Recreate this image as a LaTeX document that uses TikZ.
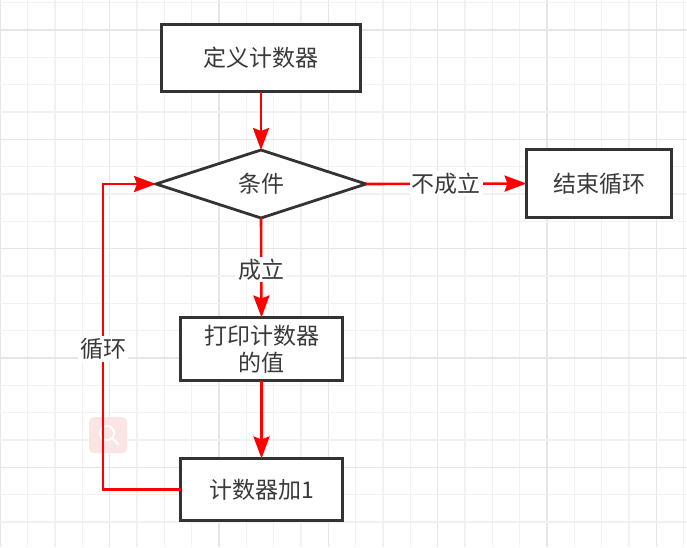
\documentclass[tikz,border=0pt]{standalone}
\usepackage{fontspec}
\setmainfont{Noto Sans CJK SC}
\usetikzlibrary{arrows.meta,shapes.geometric}
\definecolor{gridminor}{HTML}{F1F1F1}
\definecolor{gridmajor}{HTML}{E6E6E6}
\definecolor{boxline}{HTML}{333333}
\definecolor{txt}{HTML}{3A3A3A}
\definecolor{flow}{HTML}{FF0000}
\definecolor{magpink}{HTML}{FBE4E4}
\tikzset{
  procbox/.style={draw=boxline, line width=2.8pt, fill=white, inner sep=0pt, outer sep=0pt,
    text=txt, font=\fontsize{23}{27}\selectfont, align=center},
  decbox/.style={diamond, draw=boxline, line width=2.8pt, fill=white, inner sep=0pt, outer sep=0pt,
    text=txt, font=\fontsize{23}{27}\selectfont, minimum width=210pt, minimum height=68pt},
  flowline/.style={draw=flow, line width=2.6pt, -{Stealth[length=22pt,width=16pt,inset=3pt]}},
  flowlabel/.style={fill=white, text=txt, font=\fontsize{23}{26}\selectfont, inner sep=2pt},
}
\begin{document}
\begin{tikzpicture}[x=1pt,y=-1pt]
\useasboundingbox (0,0) rectangle (687,547);
\fill[white] (0,0) rectangle (687,547);
% grid
\foreach \k in {0,...,25} {
  \pgfmathsetmacro{\gx}{0.4+27.33*\k}
  \pgfmathtruncatemacro{\m}{mod(\k,4)}
  \ifnum\m=0
    \draw[gridmajor, line width=1.5pt] (\gx,0) -- (\gx,547);
  \else
    \draw[gridminor, line width=1.5pt] (\gx,0) -- (\gx,547);
  \fi
}
\foreach \k in {0,...,20} {
  \pgfmathsetmacro{\gy}{2.7+27.33*\k}
  \pgfmathtruncatemacro{\m}{mod(\k,4)}
  \ifnum\m=1
    \draw[gridmajor, line width=1.5pt] (0,\gy) -- (687,\gy);
  \else
    \draw[gridminor, line width=1.5pt] (0,\gy) -- (687,\gy);
  \fi
}
% magnifier overlay
\fill[magpink, rounded corners=5pt] (89,417) rectangle (127,453);
\draw[white, line width=2pt] (107,433) circle (7pt);
\draw[white, line width=2.4pt, line cap=round] (112,438) -- (118,444);
% nodes
\node[procbox, minimum width=199pt, minimum height=67pt] (start) at (261,58) {定义计数器};
\node[decbox] (cond) at (261,184) {条件};
\node[procbox, minimum width=145pt, minimum height=68pt] (finish) at (599,183.5) {结束循环};
\node[procbox, minimum width=162pt, minimum height=63pt] (print) at (261.5,349) {打印计数器\\的值};
\node[procbox, minimum width=162pt, minimum height=62pt] (incr) at (261.5,489.5) {计数器加1};
\coordinate (loopbot) at (103,489.5);
\coordinate (looptop) at (103,184);
% connectors
\draw[flowline] (start.south) -- (cond.north);
\draw[flowline] (cond.south) -- node[flowlabel, pos=0.52] (lyes) {成立} (print.north);
\draw[flowline] (cond.east) -- node[flowlabel, pos=0.5] (lno) {不成立} (finish.west);
\draw[flowline] (print.south) -- (incr.north);
\draw[flowline] (incr.west) -- (loopbot) -- node[flowlabel, pos=0.46] (lloop) {循环} (looptop) -- (cond.west);
\end{tikzpicture}
\end{document}
